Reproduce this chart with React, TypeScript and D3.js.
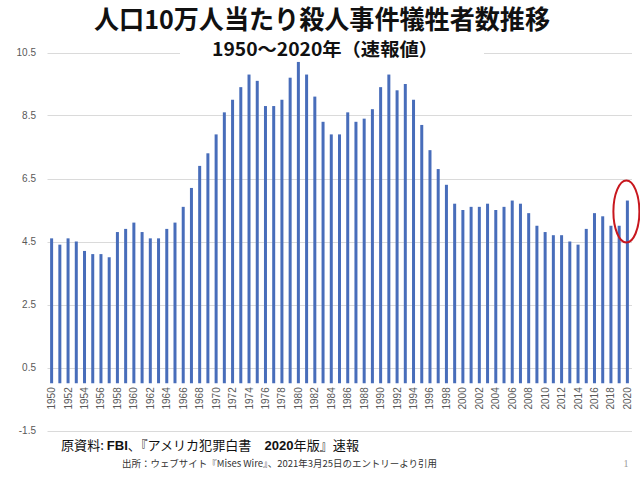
import React from "react";
import * as d3 from "d3";

const years: number[] = [
  1950, 1951, 1952, 1953, 1954, 1955, 1956, 1957, 1958, 1959,
  1960, 1961, 1962, 1963, 1964, 1965, 1966, 1967, 1968, 1969,
  1970, 1971, 1972, 1973, 1974, 1975, 1976, 1977, 1978, 1979,
  1980, 1981, 1982, 1983, 1984, 1985, 1986, 1987, 1988, 1989,
  1990, 1991, 1992, 1993, 1994, 1995, 1996, 1997, 1998, 1999,
  2000, 2001, 2002, 2003, 2004, 2005, 2006, 2007, 2008, 2009,
  2010, 2011, 2012, 2013, 2014, 2015, 2016, 2017, 2018, 2019, 2020,
];

const rates: number[] = [
  4.6, 4.4, 4.6, 4.5, 4.2, 4.1, 4.1, 4.0, 4.8, 4.9,
  5.1, 4.8, 4.6, 4.6, 4.9, 5.1, 5.6, 6.2, 6.9, 7.3,
  7.9, 8.6, 9.0, 9.4, 9.8, 9.6, 8.8, 8.8, 9.0, 9.7,
  10.2, 9.8, 9.1, 8.3, 7.9, 7.9, 8.6, 8.3, 8.4, 8.7,
  9.4, 9.8, 9.3, 9.5, 9.0, 8.2, 7.4, 6.8, 6.3, 5.7,
  5.5, 5.6, 5.6, 5.7, 5.5, 5.6, 5.8, 5.7, 5.4, 5.0,
  4.8, 4.7, 4.7, 4.5, 4.4, 4.9, 5.4, 5.3, 5.0, 5.0, 5.8,
];

const yTicks: number[] = [-1.5, 0.5, 2.5, 4.5, 6.5, 8.5, 10.5];

const title = "人口10万人当たり殺人事件犠牲者数推移";
const subtitle = "1950〜2020年（速報値）";
const sourceLine = "出所：ウェブサイト『Mises Wire』、2021年3月25日のエントリーより引用";

const W = 640;
const H = 480;

export default function App() {
  const x = d3
    .scalePoint<number>()
    .domain(years)
    .range([47.5, 631.5])
    .padding(0.5);
  const y = d3.scaleLinear().domain([-1.5, 10.5]).range([430.5, 52.5]);
  const barW = 3;
  const axisFont = "'Liberation Sans', Arial, sans-serif";
  const cjk = "'Noto Sans CJK JP', sans-serif";
  const lastYear = years[years.length - 1];

  return (
    <svg
      width={W}
      height={H}
      viewBox={`0 0 ${W} ${H}`}
      style={{ position: "absolute", left: 0, top: 0, background: "#fff" }}
    >
      <rect x={0} y={0} width={W} height={H} fill="#fff" />
      {yTicks.map((t) => (
        <line
          key={"g" + t}
          x1={47.5}
          x2={632}
          y1={Math.round(y(t)) + 0.5}
          y2={Math.round(y(t)) + 0.5}
          stroke="#dadada"
          strokeWidth={1}
        />
      ))}
      {yTicks.map((t) => (
        <text
          key={"yl" + t}
          x={36}
          y={y(t)}
          textAnchor="end"
          dominantBaseline="central"
          fontFamily={axisFont}
          fontSize={10}
          fill="#595959"
        >
          {t.toFixed(1)}
        </text>
      ))}
      {years.map((yr, i) => (
        <rect
          key={"b" + yr}
          x={(x(yr) as number) - barW / 2}
          y={y(rates[i])}
          width={barW}
          height={y(0) - y(rates[i])}
          fill="#486dba"
        />
      ))}
      {years
        .filter((yr) => yr % 2 === 0)
        .map((yr) => {
          const cx = x(yr) as number;
          const cy = y(0) + 4;
          return (
            <text
              key={"xl" + yr}
              transform={`translate(${cx},${cy}) rotate(-90)`}
              textAnchor="end"
              dominantBaseline="central"
              fontFamily={axisFont}
              fontSize={10}
              fill="#595959"
            >
              {yr}
            </text>
          );
        })}
      <rect x={180} y={38} width={304} height={21} fill="#fff" />
      <text
        x={322}
        y={29}
        textAnchor="middle"
        fontFamily={cjk}
        fontWeight="bold"
        fontSize={26}
        textLength={456}
        lengthAdjust="spacingAndGlyphs"
        fill="#111"
      >
        {title}
      </text>
      <text
        x={325}
        y={56}
        textAnchor="middle"
        fontFamily={cjk}
        fontWeight="bold"
        fontSize={18}
        textLength={226}
        lengthAdjust="spacingAndGlyphs"
        fill="#111"
      >
        {subtitle}
      </text>
      <ellipse
        cx={(x(lastYear) as number) - 1}
        cy={y(5.45)}
        rx={13}
        ry={31}
        fill="none"
        stroke="#c8171e"
        strokeWidth={2}
      />
      <text
        x={61}
        y={450}
        fontFamily={cjk}
        fontSize={13}
        textLength={298}
        lengthAdjust="spacingAndGlyphs"
        fill="#111"
      >
        <tspan>原資料: </tspan>
        <tspan fontWeight="bold" fontFamily={axisFont}>FBI</tspan>
        <tspan>、『アメリカ犯罪白書　</tspan>
        <tspan fontWeight="bold" fontFamily={axisFont}>2020</tspan>
        <tspan>年版』速報</tspan>
      </text>
      <text
        x={122}
        y={467}
        fontFamily={cjk}
        fontSize={9.5}
        textLength={315}
        lengthAdjust="spacingAndGlyphs"
        fill="#333"
      >
        {sourceLine}
      </text>
      <text
        x={626}
        y={467}
        textAnchor="middle"
        fontFamily="'Liberation Serif', serif"
        fontSize={10}
        fill="#999"
      >
        1
      </text>
    </svg>
  );
}
